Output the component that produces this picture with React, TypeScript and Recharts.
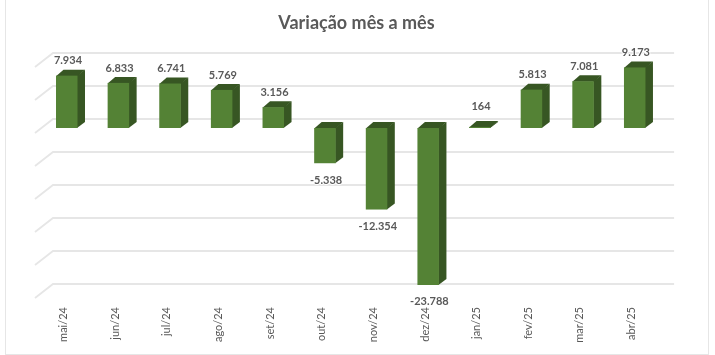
import { BarChart, Bar, XAxis, YAxis, CartesianGrid, LabelList } from "recharts";

const months = ["mai/24", "jun/24", "jul/24", "ago/24", "set/24", "out/24", "nov/24", "dez/24", "jan/25", "fev/25", "mar/25", "abr/25"];
const variation = [7934, 6833, 6741, 5769, 3156, -5338, -12354, -23788, 164, 5813, 7081, 9173];
const yTicks = [-25000, -20000, -15000, -10000, -5000, 0, 5000, 10000];

const chartData = months.map((month, i) => ({ month, value: variation[i] }));

const FONT = "Lato, 'Open Sans', sans-serif";
const TEXT = "#595959";

// deslocamento da face frontal em relacao a parede do fundo
const SHIFT_Y = 9;
const DEPTH_X = 7.5;
const DEPTH_Y = 6;

function Bar3D(props: any) {
  const { x, y, width, height } = props;
  const top = Math.min(y, y + height) + SHIFT_Y;
  const bottom = Math.max(y, y + height) + SHIFT_Y;
  const right = x + width;
  return (
    <g>
      <polygon
        points={`${x},${top + 0.5} ${x + DEPTH_X},${top - DEPTH_Y} ${right + DEPTH_X},${top - DEPTH_Y} ${right},${top + 0.5}`}
        fill="#375623"
      />
      <polygon
        points={`${right - 0.5},${top} ${right + DEPTH_X},${top - DEPTH_Y} ${right + DEPTH_X},${bottom - DEPTH_Y} ${right - 0.5},${bottom}`}
        fill="#375623"
      />
      <rect x={x} y={top} width={width} height={bottom - top} fill="#548235" />
    </g>
  );
}

function GridLine(props: any) {
  const { x1, x2, y1 } = props;
  return (
    <polyline
      key={props.key}
      points={`${x1 - 6},${y1 + 14} ${x1 + 12},${y1} ${x2 + 13.5},${y1}`}
      fill="none"
      stroke="#e6e6e6"
      strokeWidth={1.8}
    />
  );
}

function MonthTick(props: any) {
  const { x, payload } = props;
  const tx = x - 2.5;
  const ty = 307;
  return (
    <text
      x={tx}
      y={ty}
      transform={`rotate(-90 ${tx} ${ty})`}
      textAnchor="end"
      dominantBaseline="middle"
      fontFamily={FONT}
      fontSize={11}
      fill={TEXT}
    >
      {payload.value}
    </text>
  );
}

function ValueLabel(props: any) {
  const { x, y, width, height, value } = props;
  const top = Math.min(y, y + height) + SHIFT_Y;
  const bottom = Math.max(y, y + height) + SHIFT_Y;
  let ly = top - 14;
  if (value < 0) ly = bottom + 17.5;
  else if (value < 1000) ly = top - 20;
  return (
    <text
      x={x + width / 2 + 1.2}
      y={ly}
      textAnchor="middle"
      dominantBaseline="middle"
      fontFamily={FONT}
      fontSize={11}
      fontWeight={700}
      fill={TEXT}
      stroke="#ffffff"
      strokeWidth={2}
      paintOrder="stroke"
    >
      {value.toLocaleString("pt-BR")}
    </text>
  );
}

export default function App() {
  return (
    <div
      style={{
        position: "absolute",
        left: 0,
        top: 0,
        width: 715,
        height: 355,
        background: "#fff",
        overflow: "hidden",
        filter: "blur(0.45px)",
      }}
    >
      <div
        style={{
          position: "absolute",
          left: 5,
          top: -2,
          width: 702,
          height: 355,
          border: "1px solid #e6e6e6",
        }}
      />
      <div
        style={{
          position: "absolute",
          left: 0,
          width: 713,
          top: 11,
          textAlign: "center",
          fontFamily: FONT,
          fontSize: 18,
          fontWeight: 700,
          color: TEXT,
        }}
      >
        Variação mês a mês
      </div>
      <div style={{ position: "absolute", left: 0, top: 0 }}>
        <BarChart
          width={715}
          height={355}
          data={chartData}
          margin={{ top: 53, right: 54.4, bottom: 0, left: 41 }}
          barSize={21.5}
        >
          <CartesianGrid vertical={false} horizontal={GridLine as any} />
          <XAxis dataKey="month" height={71} axisLine={false} tickLine={false} interval={0} tick={MonthTick as any} />
          <YAxis hide domain={[-25000, 10000]} ticks={yTicks} />
          <Bar dataKey="value" shape={Bar3D as any} isAnimationActive={false}>
            <LabelList dataKey="value" content={ValueLabel as any} />
          </Bar>
        </BarChart>
      </div>
    </div>
  );
}
